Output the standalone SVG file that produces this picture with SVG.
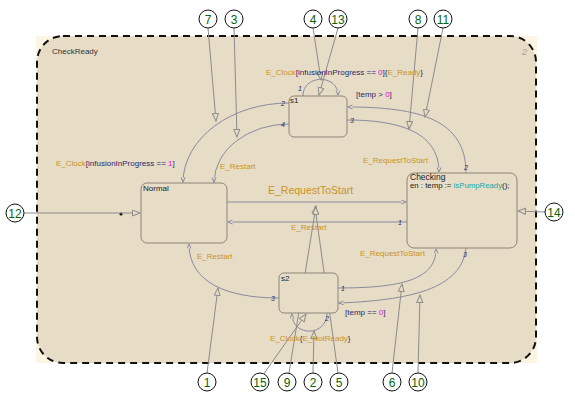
<svg xmlns="http://www.w3.org/2000/svg" width="575" height="402" viewBox="0 0 575 402">
<style>
text{font-family:"Liberation Sans",Arial,sans-serif}
.ev{fill:#c8941e}
.cd{fill:#2a2a6a}
.mg{fill:#e010e0}
.tl{fill:#18aaaa}
.state{fill:#e7dcc6;stroke:#8c8478;stroke-width:1}
.cn{fill:none;stroke:#8c8c8c;stroke-width:1;marker-end:url(#ha)}
.num{font-size:7px;font-style:italic;fill:#2a2a6a}
.circ circle{fill:#fff;stroke:#111;stroke-width:1}
.circ text{font-size:12px;fill:#0a640a;text-anchor:middle}
.tr{fill:none;stroke:#8a8aa0;stroke-width:1;marker-end:url(#ta)}
</style>
<defs>
<marker id="ha" markerUnits="userSpaceOnUse" markerWidth="10" markerHeight="8" refX="8" refY="3.5" orient="auto">
<path d="M0.5,0.5 L8,3.5 L0.5,6.5 z" fill="#e7dcc6" stroke="#8c8c8c" stroke-width="1"/>
</marker>
<marker id="ta" markerUnits="userSpaceOnUse" markerWidth="8" markerHeight="6" refX="5" refY="2.5" orient="auto">
<path d="M0.5,0.5 L5,2.5 L0.5,4.5" fill="#e7dcc6" stroke="#8a8aa0" stroke-width="1"/>
</marker>
</defs>
<rect x="0" y="0" width="575" height="402" fill="#ffffff"/>
<rect x="36" y="36" width="501" height="327" fill="#fdf5e3"/>
<g id="CheckReady">
<rect x="37" y="36" width="499" height="327" rx="26" ry="26" fill="#e7dcc6" stroke="#111" stroke-width="2" stroke-dasharray="7,5"/>
<text x="52" y="54" font-size="8" fill="#333">CheckReady</text>
<text x="522" y="55" font-size="9" font-style="italic" fill="#a8a090">2</text>
</g>
<g id="connectors">
<path class="tr" d="M289,103 A106,80 0 0 0 183,182"/>
<path class="tr" d="M289,124 A75,59 0 0 0 214,182"/>
<path class="tr" d="M303,96 C303,74 338,74 338,95"/>
<path class="tr" d="M466,173 C466,120 420,107 348,107"/>
<path class="tr" d="M347,120 C395,120 439,130 439,172"/>
<path class="tr" d="M227,202 L406,202"/>
<path class="tr" d="M407,222 L228,222"/>
<path class="tr" d="M466,248 C462,285 420,300 339,303"/>
<path class="tr" d="M338,288 C400,288 436,280 436,249"/>
<path class="tr" d="M279,298 C228,298 189,283 189,244"/>
<path class="tr" d="M327,313 C327,337 292,337 292,314"/>
<circle cx="121" cy="214" r="1.6" fill="#111"/>
<path class="cn" d="M24,213 L140,213"/>
<path class="cn" d="M208,28 L216,121"/>
<path class="cn" d="M234,28 L237,137"/>
<path class="cn" d="M313,28 L321,80"/>
<path class="cn" d="M338,28 L319,95"/>
<path class="cn" d="M418,28 L409,129"/>
<path class="cn" d="M443,28 L425,117"/>
<path class="cn" d="M545,212 L518,211"/>
<path class="cn" d="M207,373 L218,288"/>
<path class="cn" d="M263,375 L306,314"/>
<path class="cn" d="M289,373 L316,206"/>
<path class="cn" d="M338,373 L315,207"/>
<path class="cn" d="M313,373 L314,331"/>
<path class="cn" d="M392,373 L402,284"/>
<path class="cn" d="M418,373 L420,295"/>
<text class="num" x="281" y="106">2</text>
<text class="num" x="281" y="127">4</text>
<text class="num" x="298" y="91">1</text>
<text class="num" x="350" y="123">3</text>
<text class="num" x="464" y="170">2</text>
<text class="num" x="398" y="225">1</text>
<text class="num" x="463" y="257">3</text>
<text class="num" x="341" y="291">1</text>
<text class="num" x="271" y="301">3</text>
<text class="num" x="325" y="321">2</text>
<text x="266" y="75" font-size="8"><tspan class="ev">E_Clock</tspan><tspan class="cd">[infusionInProgress == </tspan><tspan class="mg">0</tspan><tspan class="cd">]{</tspan><tspan class="ev">E_Ready</tspan><tspan class="cd">}</tspan></text>
<text x="356" y="97" font-size="8"><tspan class="cd">[temp &gt; </tspan><tspan class="mg">0</tspan><tspan class="cd">]</tspan></text>
<text x="56" y="166" font-size="8"><tspan class="ev">E_Clock</tspan><tspan class="cd">[infusionInProgress == </tspan><tspan class="mg">1</tspan><tspan class="cd">]</tspan></text>
<text class="ev" x="220" y="169" font-size="8">E_Restart</text>
<text class="ev" x="363" y="163" font-size="8">E_RequestToStart</text>
<text class="ev" x="268" y="194" font-size="10.5">E_RequestToStart</text>
<text class="ev" x="291" y="230" font-size="8">E_Restart</text>
<text class="ev" x="360" y="256" font-size="8">E_RequestToStart</text>
<text class="ev" x="197" y="259" font-size="8">E_Restart</text>
<text x="345" y="315" font-size="8"><tspan class="cd">[temp == </tspan><tspan class="mg">0</tspan><tspan class="cd">]</tspan></text>
<text x="270" y="341" font-size="8"><tspan class="ev">E_Clock</tspan><tspan class="cd">{</tspan><tspan class="ev">E_NotReady</tspan><tspan class="cd">}</tspan></text>
</g>
<g id="s1">
<rect class="state" x="289" y="96" width="58" height="41" rx="5"/>
<text x="290" y="103" font-size="8" fill="#222">s1</text>
</g>
<g id="Normal">
<rect class="state" x="141" y="183" width="86" height="60" rx="6"/>
<text x="143" y="191" font-size="8" fill="#222">Normal</text>
</g>
<g id="Checking">
<rect class="state" x="407" y="173" width="110" height="75" rx="7"/>
<text x="410" y="180" font-size="8.5" fill="#222">Checking</text>
<text x="410" y="188" font-size="7.8"><tspan fill="#222">en : temp := </tspan><tspan class="tl">isPumpReady</tspan><tspan fill="#222">();</tspan></text>
</g>
<g id="s2">
<rect class="state" x="279" y="273" width="59" height="40" rx="5"/>
<text x="281" y="281" font-size="8" fill="#222">s2</text>
</g>
<g id="c7" class="circ"><circle cx="208" cy="19" r="9"/><text x="208" y="23.5">7</text></g>
<g id="c3" class="circ"><circle cx="234" cy="19" r="9"/><text x="234" y="23.5">3</text></g>
<g id="c4" class="circ"><circle cx="313" cy="19" r="9"/><text x="313" y="23.5">4</text></g>
<g id="c13" class="circ"><circle cx="338" cy="19" r="9"/><text x="338" y="23.5">13</text></g>
<g id="c8" class="circ"><circle cx="418" cy="19" r="9"/><text x="418" y="23.5">8</text></g>
<g id="c11" class="circ"><circle cx="443" cy="19" r="9"/><text x="443" y="23.5">11</text></g>
<g id="c12" class="circ"><circle cx="15" cy="213" r="9"/><text x="15" y="217.5">12</text></g>
<g id="c14" class="circ"><circle cx="554" cy="212" r="9"/><text x="554" y="216.5">14</text></g>
<g id="c1" class="circ"><circle cx="207" cy="382" r="9"/><text x="207" y="386.5">1</text></g>
<g id="c15" class="circ"><circle cx="260" cy="382" r="9"/><text x="260" y="386.5">15</text></g>
<g id="c9" class="circ"><circle cx="287" cy="382" r="9"/><text x="287" y="386.5">9</text></g>
<g id="c2" class="circ"><circle cx="313" cy="382" r="9"/><text x="313" y="386.5">2</text></g>
<g id="c5" class="circ"><circle cx="339" cy="382" r="9"/><text x="339" y="386.5">5</text></g>
<g id="c6" class="circ"><circle cx="392" cy="382" r="9"/><text x="392" y="386.5">6</text></g>
<g id="c10" class="circ"><circle cx="418" cy="382" r="9"/><text x="418" y="386.5">10</text></g>
</svg>
